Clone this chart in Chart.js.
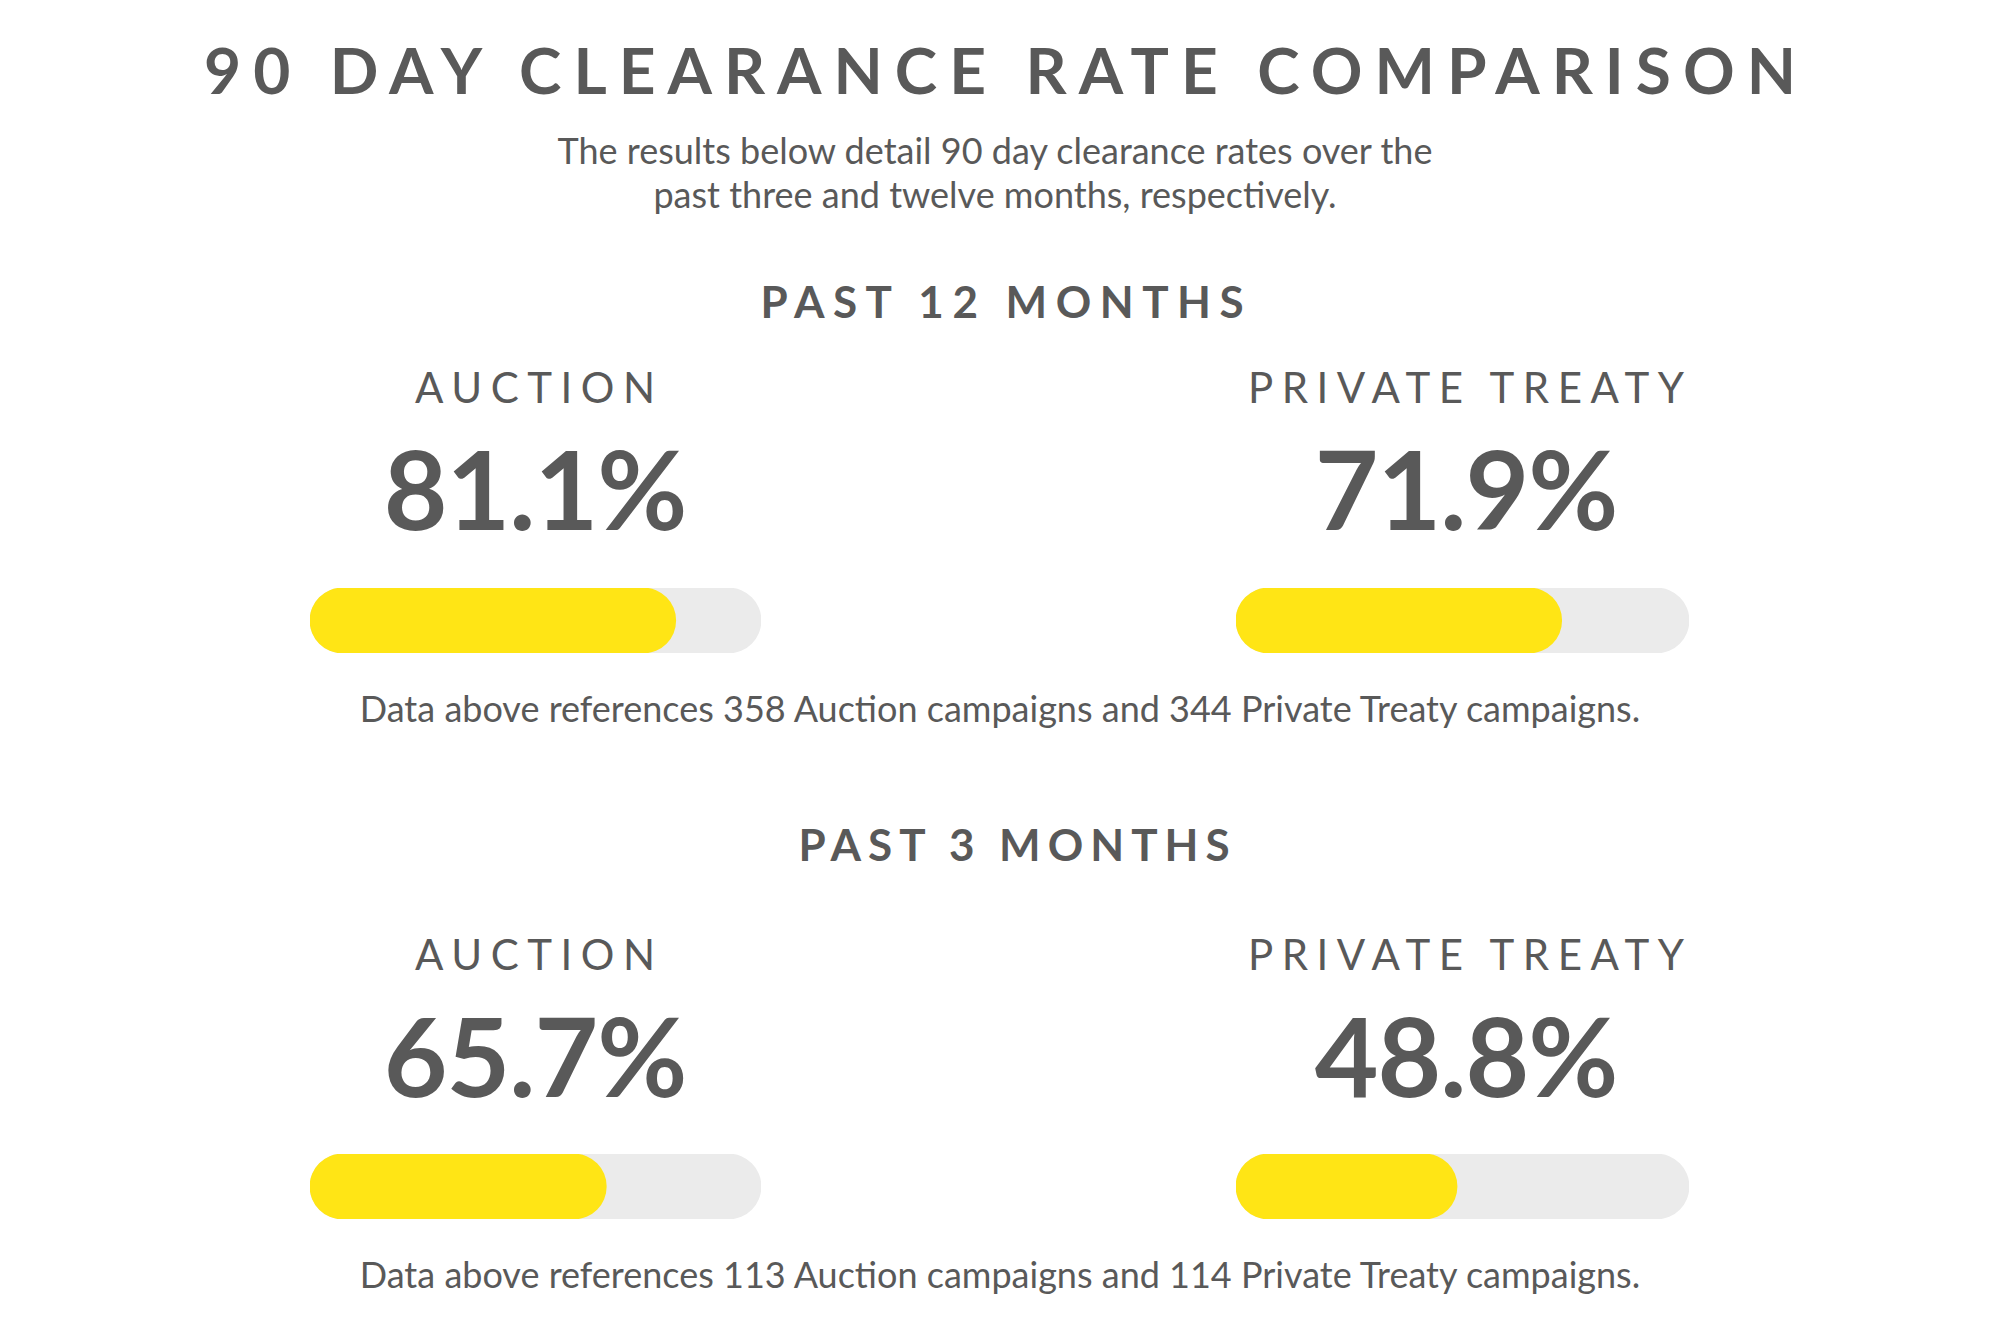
<!DOCTYPE html>
<html>
<head>
<meta charset="utf-8">
<script src="https://cdn.jsdelivr.net/npm/chart.js@4.4.1/dist/chart.umd.min.js"></script>
<style>
  html, body { margin: 0; padding: 0; background: #fff; }
  body { width: 2000px; height: 1333px; position: relative; overflow: hidden; font-family: Lato, "Open Sans", sans-serif; color: #595959; }
  .t { position: absolute; white-space: nowrap; text-align: center; line-height: 1; transform: translateX(-50%); }
  .bar { position: absolute; }
</style>
</head>
<body>
<script>
const title = "90 DAY CLEARANCE RATE COMPARISON";
const subtitle = ["The results below detail 90 day clearance rates over the", "past three and twelve months, respectively."];
const periods = ["PAST 12 MONTHS", "PAST 3 MONTHS"];
const methods = ["AUCTION", "PRIVATE TREATY"];
const rates12 = [81.1, 71.9];
const rates3 = [65.7, 48.8];
const campaigns12 = [358, 344];
const campaigns3 = [113, 114];

const yellow = "#FFE515";
const track = "#EBEBEB";

function text(str, cx, capY, size, weight, spacing) {
  const d = document.createElement("div");
  d.className = "t";
  d.textContent = str;
  d.style.left = cx + "px";
  d.style.top = (capY - size * 0.53) + "px";
  d.style.fontSize = size + "px";
  d.style.fontWeight = weight;
  if (spacing) {
    d.style.letterSpacing = spacing + "px";
    d.style.paddingLeft = spacing + "px";
  }
  document.body.appendChild(d);
}

function bar(value, label, x, y, w, h) {
  const c = document.createElement("canvas");
  c.className = "bar";
  c.width = w;
  c.height = h;
  c.style.left = x + "px";
  c.style.top = y + "px";
  document.body.appendChild(c);
  new Chart(c, {
    type: "bar",
    data: {
      labels: [label],
      datasets: [
        { data: [value], backgroundColor: yellow, grouped: false },
        { data: [100], backgroundColor: track, grouped: false },
      ],
    },
    options: {
      indexAxis: "y",
      responsive: false,
      animation: false,
      events: [],
      layout: { padding: 0 },
      barPercentage: 1,
      categoryPercentage: 1,
      borderRadius: 40,
      borderSkipped: false,
      plugins: { legend: { display: false }, tooltip: { enabled: false } },
      scales: {
        x: { display: false, min: 0, max: 100 },
        y: { display: false },
      },
    },
  });
}

text(title, 1000, 72, 64, 700, 12);
text(subtitle[0], 995, 151, 36, 400);
text(subtitle[1], 995, 195, 36, 400);

const sections = [
  { rates: rates12, counts: campaigns12, head: 302, headX: 1002, headSp: 8.5, label: 388, pct: 490, bar: 588, note: 709 },
  { rates: rates3, counts: campaigns3, head: 845, headX: 1014, headSp: 7, label: 955, pct: 1057, bar: 1154, note: 1275 },
];
const cols = [
  { cx: 535, bx: 310, bw: 451 },
  { cx: 1466, bx: 1236, bw: 453 },
];

sections.forEach((s, i) => {
  text(periods[i], s.headX, s.head, 44, 700, s.headSp);
  cols.forEach((c, j) => {
    text(methods[j], c.cx, s.label, 42, 400, 8.5);
    text(s.rates[j].toFixed(1) + "%", c.cx, s.pct, 110, 700, -1);
    bar(s.rates[j], methods[j], c.bx, s.bar, c.bw, 65);
  });
  text("Data above references " + s.counts[0] + " Auction campaigns and " + s.counts[1] + " Private Treaty campaigns.", 1000, s.note, 36, 400);
});
</script>
</body>
</html>
